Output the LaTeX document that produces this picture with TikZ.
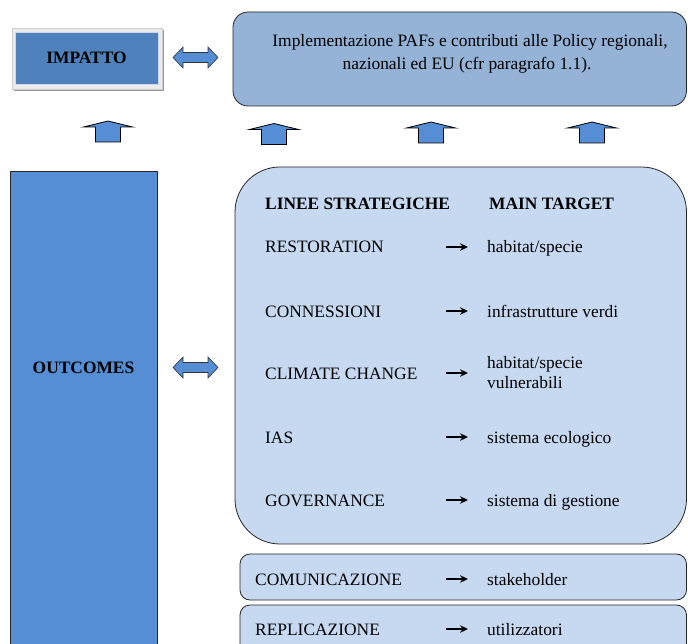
\documentclass[tikz,border=0pt]{standalone}
\usepackage{fontspec}
\setmainfont{Liberation Serif}
\usetikzlibrary{arrows.meta}
\definecolor{impblue}{RGB}{79,129,189}
\definecolor{outblue}{RGB}{85,142,213}
\definecolor{topblue}{RGB}{149,179,215}
\definecolor{paleblue}{RGB}{198,217,241}
\tikzset{
  pics/upblock/.style={code={
    \draw[black, line width=0.8pt, fill=outblue, line join=miter]
      (-12.5,10.5) -- (-12.5,-4.5) -- (-24.5,-4.5) -- (0,-10.5)
      -- (24.5,-4.5) -- (12.5,-4.5) -- (12.5,10.5) -- cycle;}},
  pics/duoblock/.style={code={
    \draw[black!80, line width=0.6pt, fill=outblue]
      (-22.5,0) -- (-12.5,-10.5) -- (-12.5,-5) -- (12.5,-5) -- (12.5,-10.5)
      -- (22.5,0) -- (12.5,10.5) -- (12.5,5) -- (-12.5,5) -- (-12.5,10.5)
      -- cycle;}}
}
\begin{document}
\begin{tikzpicture}[x=1pt,y=-1pt,
    every node/.style={font=\fontsize{17.4}{20}\selectfont},
    box/.style={draw=black!85, line width=0.8pt, inner sep=0pt},
    tip/.style={-{Stealth[length=8pt,width=7.5pt]}, line width=1.5pt},
    lbl/.style={anchor=base west, inner sep=0pt}]
    \useasboundingbox (0,0) rectangle (688,644);
    % impatto
    \fill[black!40] (14,30) rectangle (164,91);
    \node[fill=black!8, draw=black!20, inner sep=0pt, minimum width=150,
      minimum height=61] (impframe) at (87,58.5) {};
    \node[box, draw=white!70!impblue, fill=impblue, minimum width=143,
      minimum height=52, font=\fontsize{17.4}{20}\selectfont\bfseries]
      (impatto) at (86.5,58) {IMPATTO};
    \pic (duo1) at (195.5,57.5) {duoblock};
    \node[box, rounded corners=15pt, fill=topblue, minimum width=453.5,
      minimum height=94] (policy) at (459.75,59) {};
    \node[anchor=base] (pol1) at (470,47)
      {Implementazione PAFs e contributi alle Policy regionali,};
    \node[anchor=base] (pol2) at (467,70) {nazionali ed EU (cfr paragrafo 1.1).};
    % frecce verso l'alto
    \foreach \x/\y [count=\i] in {108/131.5,274/134,431/132.5,592/132.5}
      \pic (up\i) at (\x,\y) {upblock};
    % outcomes
    \node[box, fill=outblue, minimum width=147, minimum height=490]
      (outcomes) at (83.5,416) {};
    \node[font=\fontsize{17.4}{20}\selectfont\bfseries] (outlbl) at (83.5,367.5)
      {OUTCOMES};
    \pic (duo2) at (195.5,367.5) {duoblock};
    \node[box, rounded corners=45pt, fill=paleblue, minimum width=451.5,
      minimum height=377] (linee) at (460.75,355.5) {};
    \node[box, rounded corners=10pt, fill=paleblue, minimum width=446.5,
      minimum height=46] (comm) at (463.25,577) {};
    \node[box, rounded corners=10pt, fill=paleblue, minimum width=446.5,
      minimum height=60] (repl) at (463.25,635) {};
    \node[lbl, font=\fontsize{17.4}{20}\selectfont\bfseries] (hd1) at (265,210)
      {LINEE STRATEGICHE};
    \node[lbl, font=\fontsize{17.4}{20}\selectfont\bfseries] (hd2) at (489,210)
      {MAIN TARGET};
    % righe
    \foreach \y/\xl/\ls/\tg [count=\i] in {253/265/RESTORATION/{habitat/specie},
        317/265/CONNESSIONI/{infrastrutture verdi},
        379/265/CLIMATE CHANGE/{},
        443/265/IAS/{sistema ecologico},
        506/265/GOVERNANCE/{sistema di gestione},
        585/255/COMUNICAZIONE/stakeholder,
        635/255/REPLICAZIONE/utilizzatori}{
      \node[lbl] (l\i) at (\xl,\y) {\ls};
      \node[lbl] (t\i) at (487,\y) {\tg};
      \coordinate (a\i) at (446,\y-6);
      \draw[tip] (a\i) -- ++(22,0);
    }
    \node[lbl] (t3a) at (487,368) {habitat/specie};
    \node[lbl] (t3b) at (487,388) {vulnerabili};
  \end{tikzpicture}
\end{document}
